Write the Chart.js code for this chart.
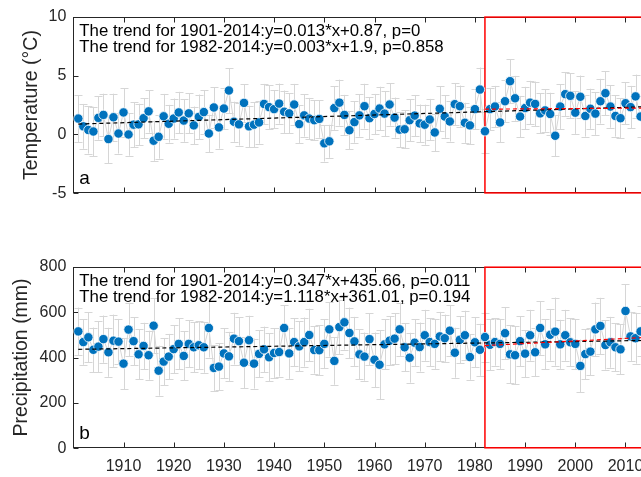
<!DOCTYPE html>
<html>
<head>
<meta charset="utf-8">
<script src="https://cdn.jsdelivr.net/npm/chart.js@4.4.1/dist/chart.umd.min.js"></script>
<style>
  html, body { margin: 0; padding: 0; background: #fff; overflow: hidden; }
  #wrap { position: relative; width: 641px; height: 477px; overflow: hidden; }
  canvas { position: absolute; left: 0; }
  #tempChart { top: 0; }
  #precChart { top: 250px; }
</style>
</head>
<body>
<div id="wrap">
  <canvas id="tempChart" width="700" height="210"></canvas>
  <canvas id="precChart" width="700" height="227"></canvas>
</div>
<script>
// Annual series, 1901-2014
const firstYear = 1901;
const lastYear = 2014;
const years = [];
for (let y = firstYear; y <= lastYear; y++) years.push(y);

// Mean annual temperature (°C)
const temperature = [
  1.35, 0.69, 0.38, 0.25, 1.41, 1.66, -0.39, 1.46, 0.08, 1.87,
  0.00, 0.83, 0.86, 1.38, 1.96, -0.53, -0.20, 1.54, 0.91, 1.35,
  1.87, 1.18, 1.79, 0.77, 1.49, 1.90, 0.08, 2.29, 0.60, 2.20,
  3.73, 1.08, 0.86, 2.68, 0.69, 0.83, 1.02, 2.59, 2.32, 2.15,
  2.62, 1.93, 1.79, 2.54, 0.88, 1.62, 1.35, 1.21, 1.32, -0.75,
  -0.58, 2.24, 2.70, 1.66, 0.36, 1.05, 1.62, 2.40, 1.38, 1.74,
  2.20, 1.77, 2.54, 1.43, 0.41, 0.44, 1.21, 1.60, 0.94, 0.83,
  1.27, 0.17, 2.18, 1.52, 1.10, 2.57, 2.40, 0.99, 0.77, 2.15,
  3.81, 0.27, 2.15, 2.37, 1.02, 2.82, 4.52, 3.07, 1.52, 2.24,
  2.70, 2.59, 1.79, 2.04, 1.74, -0.11, 2.37, 3.42, 3.28, 1.85,
  3.20, 1.57, 2.18, 1.77, 2.82, 3.50, 2.37, 1.57, 1.38, 2.65,
  2.32, 3.23, 1.52, 2.40
];
// Standard deviation of temperature (°C)
const temperatureSd = [
  2.00, 1.90, 2.00, 2.10, 1.85, 1.80, 2.05, 2.00, 1.70, 2.05,
  1.80, 1.90, 1.75, 1.70, 1.80, 1.70, 1.85, 1.90, 1.60, 1.70,
  1.75, 1.80, 1.70, 1.60, 1.90, 1.85, 1.60, 1.70, 1.80, 1.75,
  1.90, 1.70, 1.80, 1.60, 1.75, 1.90, 1.80, 1.70, 1.85, 1.60,
  1.70, 1.80, 1.70, 1.75, 1.60, 1.80, 1.75, 1.70, 1.60, 1.55,
  1.40, 1.85, 1.95, 1.70, 1.60, 1.75, 1.80, 1.90, 1.80, 1.70,
  1.85, 1.90, 1.80, 1.70, 1.50, 1.60, 1.80, 1.75, 1.60, 1.70,
  1.75, 1.60, 1.90, 1.80, 1.70, 1.80, 1.75, 1.70, 1.60, 1.70,
  1.87, 1.85, 1.80, 1.75, 1.70, 1.80, 1.86, 1.90, 1.75, 1.80,
  1.85, 1.90, 1.70, 1.80, 1.80, 1.75, 1.90, 1.85, 1.90, 1.80,
  1.80, 1.75, 1.70, 1.80, 1.90, 1.85, 1.80, 1.75, 1.70, 1.80,
  1.80, 1.85, 1.75, 1.80
];

// Annual precipitation (mm)
const precipitation = [
  515, 468, 489, 434, 448, 481, 423, 474, 470, 373,
  523, 472, 414, 451, 410, 540, 342, 382, 404, 437,
  460, 407, 460, 445, 454, 445, 530, 354, 360, 418,
  405, 483, 472, 377, 476, 373, 416, 436, 401, 420,
  424, 530, 418, 468, 449, 468, 499, 433, 432, 460,
  524, 385, 534, 555, 508, 471, 414, 404, 481, 390,
  368, 458, 474, 483, 524, 445, 399, 465, 446, 498,
  468, 460, 493, 485, 518, 421, 478, 498, 402, 467,
  434, 490, 456, 468, 460, 507, 414, 410, 472, 417,
  498, 423, 530, 458, 500, 514, 458, 498, 467, 460,
  363, 415, 426, 524, 539, 455, 467, 445, 436, 605,
  493, 485, 515, 480
];
// Standard deviation of precipitation (mm)
const precipitationSd = [
  105, 100, 110, 98, 112, 104, 108, 115, 100, 112,
  118, 105, 110, 102, 108, 120, 110, 104, 100, 106,
  112, 108, 104, 110, 106, 112, 130, 101, 104, 110,
  108, 114, 106, 113, 108, 110, 104, 100, 106, 110,
  108, 101, 112, 106, 110, 108, 116, 104, 110, 108,
  120, 105, 118, 120, 112, 108, 110, 106, 114, 120,
  151, 110, 108, 112, 118, 106, 110, 104, 108, 112,
  106, 110, 108, 104, 112, 110, 104, 108, 100, 110,
  115, 108, 112, 104, 110, 114, 128, 128, 110, 104,
  112, 106, 118, 110, 114, 150, 108, 112, 106, 110,
  116, 110, 104, 118, 124, 108, 112, 106, 110, 118,
  108, 112, 110, 108
];

// Axis settings
const xMin = 1900, xMax = 2015, xStep = 10;
const tempTicks = [-5, 0, 5, 10];
const precTicks = [0, 200, 400, 600, 800];
const recentStart = 1982;

// Linear trends (x = year - 1900)
const tempTrendAll = { slope: 0.013, intercept: 0.87, from: 1901, to: 2014, p: '0' };
const tempTrendRecent = { slope: 0.003, intercept: 1.9, from: 1982, to: 2014, p: '0.858' };
const precTrendAll = { slope: 0.347, intercept: 435.66, from: 1901, to: 2014, p: '0.011' };
const precTrendRecent = { slope: 1.118, intercept: 361.01, from: 1982, to: 2014, p: '0.194' };

const FONT = "'Liberation Sans', Arial, Helvetica, sans-serif";
const AXIS = '#262626';

function trendPoints(t) {
  return [t.from, t.to].map(yr => ({ x: yr, y: t.slope * (yr - 1900) + t.intercept }));
}
function trendText(t) {
  return 'The trend for ' + t.from + '-' + t.to + ':y=' + t.slope + '*x+' + t.intercept + ', p=' + t.p;
}

const panelPlugin = {
  id: 'panel',
  beforeDatasetsDraw(chart, args, o) {
    const { ctx, chartArea: a, scales: { x, y } } = chart;
    ctx.save();
    // axes frame with inward ticks
    ctx.strokeStyle = AXIS;
    ctx.lineWidth = 1;
    const L = Math.round(a.left) + 0.5, R = Math.round(a.right) - 0.5;
    const T = Math.round(a.top) + 0.5, B = Math.round(a.bottom) - 0.5;
    ctx.strokeRect(L, T, R - L, B - T);
    ctx.beginPath();
    for (let v = xMin; v <= xMax; v += xStep) {
      const px = Math.round(x.getPixelForValue(v)) + 0.5;
      ctx.moveTo(px, B); ctx.lineTo(px, B - 5);
      ctx.moveTo(px, T); ctx.lineTo(px, T + 5);
    }
    o.yTicks.forEach(v => {
      const py = Math.round(y.getPixelForValue(v)) + 0.5;
      ctx.moveTo(L, py); ctx.lineTo(L + 5, py);
      ctx.moveTo(R, py); ctx.lineTo(R - 5, py);
    });
    ctx.stroke();
    // error bars
    ctx.strokeStyle = '#d6d6d6';
    ctx.lineWidth = 1;
    ctx.beginPath();
    o.values.forEach((v, i) => {
      const px = Math.round(x.getPixelForValue(years[i])) + 0.5;
      const hi = y.getPixelForValue(v + o.errors[i]);
      const lo = y.getPixelForValue(v - o.errors[i]);
      ctx.moveTo(px, hi); ctx.lineTo(px, lo);
      ctx.moveTo(px - 4, Math.round(hi) + 0.5); ctx.lineTo(px + 4, Math.round(hi) + 0.5);
      ctx.moveTo(px - 4, Math.round(lo) + 0.5); ctx.lineTo(px + 4, Math.round(lo) + 0.5);
    });
    ctx.stroke();
    ctx.restore();
  },
  beforeDatasetDraw(chart, args, o) {
    if (args.index !== 1) return;
    const { ctx, chartArea: a, scales: { x } } = chart;
    ctx.save();
    ctx.strokeStyle = '#ff0000';
    ctx.lineWidth = 1.5;
    const left = x.getPixelForValue(o.boxFrom);
    ctx.strokeRect(left, a.top + 0.5, a.right - left - 0.5, a.bottom - a.top - 1);
    ctx.restore();
  },
  afterDraw(chart, args, o) {
    const { ctx, chartArea: a } = chart;
    ctx.save();
    ctx.fillStyle = '#000';
    ctx.textAlign = 'left';
    ctx.textBaseline = 'alphabetic';
    ctx.font = '16.8px ' + FONT;
    o.notes.forEach((s, i) => ctx.fillText(s, a.left + 6, a.top + 19 + i * 16.5));
    ctx.font = '19px ' + FONT;
    ctx.fillText(o.letter, a.left + 6, a.bottom - 9);
    ctx.restore();
  }
};

function makeChart(id, cfg) {
  const scatterData = years.map((yr, i) => ({ x: yr, y: cfg.values[i] }));
  return new Chart(document.getElementById(id), {
    type: 'scatter',
    data: {
      datasets: [
        { type: 'line', data: scatterData, borderColor: '#d6d6d6', borderWidth: 1, pointRadius: 0, fill: false, tension: 0, order: 3 },
        { data: scatterData, backgroundColor: '#0072BD', borderColor: '#ffffff', borderWidth: 0.8, pointRadius: 4.7, order: 2 },
        { type: 'line', data: trendPoints(cfg.trendAll), borderColor: '#000000', borderWidth: 1.2, borderDash: [4, 3], pointRadius: 0, fill: false, order: 1 },
        { type: 'line', data: trendPoints(cfg.trendRecent), borderColor: '#ff0000', borderWidth: 1.2, borderDash: [4, 3], pointRadius: 0, fill: false, order: 0 }
      ]
    },
    options: {
      responsive: false,
      animation: false,
      devicePixelRatio: 1,
      layout: { padding: cfg.padding },
      plugins: {
        legend: { display: false },
        tooltip: { enabled: false },
        panel: {
          values: cfg.values, errors: cfg.errors, yTicks: cfg.yTicks,
          notes: [trendText(cfg.trendAll), trendText(cfg.trendRecent)],
          letter: cfg.letter, boxFrom: recentStart
        }
      },
      scales: {
        x: {
          type: 'linear', min: xMin, max: xMax,
          display: cfg.showX,
          grid: { display: false, drawTicks: false },
          border: { display: false },
          ticks: {
            stepSize: xStep, includeBounds: false, autoSkip: false, maxRotation: 0, padding: 9, color: AXIS,
            font: { family: FONT, size: 16 },
            callback: v => (v % 10 === 0 && v > xMin) ? String(v) : ''
          },
          afterFit: s => { if (cfg.showX) s.height = cfg.xHeight; }
        },
        y: {
          min: cfg.yTicks[0], max: cfg.yTicks[cfg.yTicks.length - 1],
          grid: { display: false, drawTicks: false },
          border: { display: false },
          ticks: { stepSize: cfg.yTicks[1] - cfg.yTicks[0], padding: 7, color: AXIS, font: { family: FONT, size: 16 } },
          title: { display: true, text: cfg.yTitle, color: AXIS, font: { family: FONT, size: 19.5 }, padding: { top: cfg.titlePad, bottom: 0 } },
          afterFit: s => { s.width = 73.3; }
        }
      }
    },
    plugins: [panelPlugin]
  });
}

makeChart('tempChart', {
  values: temperature, errors: temperatureSd, yTicks: tempTicks,
  trendAll: tempTrendAll, trendRecent: tempTrendRecent,
  yTitle: 'Temperature (°C)', letter: 'a', titlePad: 20,
  showX: false, xHeight: 0,
  padding: { left: 0, top: 14.3, right: 49.4, bottom: 14.7 }
});

makeChart('precChart', {
  values: precipitation, errors: precipitationSd, yTicks: precTicks,
  trendAll: precTrendAll, trendRecent: precTrendRecent,
  yTitle: 'Precipitation (mm)', letter: 'b', titlePad: 10,
  showX: true, xHeight: 28.7,
  padding: { left: 0, top: 16.7, right: 49.4, bottom: 0 }
});
</script>
</body>
</html>
